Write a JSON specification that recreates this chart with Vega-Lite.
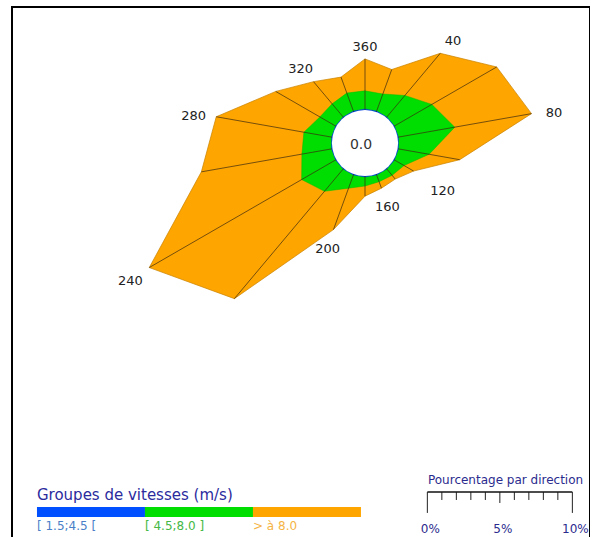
{
  "$schema": "https://vega.github.io/schema/vega-lite/v6.json",
  "width": 578,
  "height": 540,
  "padding": {"left": 12, "top": 7, "right": 0, "bottom": 0},
  "config": {"view": {"stroke": "#000000", "strokeWidth": 2}, "font": "DejaVu Sans"},
  "datasets": {
    "rose": [
      {"dir": 0, "blue": 0.06, "green": 1.26, "orange": 2.22},
      {"dir": 20, "blue": 0.06, "green": 1.26, "orange": 1.81},
      {"dir": 40, "blue": 0.06, "green": 1.95, "orange": 3.82},
      {"dir": 60, "blue": 0.06, "green": 3.0, "orange": 5.2},
      {"dir": 80, "blue": 0.06, "green": 3.97, "orange": 5.41},
      {"dir": 100, "blue": 0.06, "green": 2.16, "orange": 2.16},
      {"dir": 120, "blue": 0.06, "green": 0.77, "orange": 0.77},
      {"dir": 140, "blue": 0.06, "green": 0.57, "orange": 0.34},
      {"dir": 160, "blue": 0.06, "green": 0.5, "orange": 0.48},
      {"dir": 180, "blue": 0.06, "green": 0.63, "orange": 0.7},
      {"dir": 200, "blue": 0.06, "green": 0.98, "orange": 3.06},
      {"dir": 220, "blue": 0.06, "green": 2.02, "orange": 9.73},
      {"dir": 240, "blue": 0.06, "green": 2.72, "orange": 12.22},
      {"dir": 260, "blue": 0.06, "green": 2.09, "orange": 7.09},
      {"dir": 280, "blue": 0.06, "green": 1.95, "orange": 6.18},
      {"dir": 300, "blue": 0.06, "green": 1.26, "orange": 3.54},
      {"dir": 320, "blue": 0.06, "green": 1.19, "orange": 2.01},
      {"dir": 340, "blue": 0.06, "green": 1.33, "orange": 1.18}
    ],
    "classes": [
      {"cls": "[ 1.5;4.5 [", "i": 0},
      {"cls": "[ 4.5;8.0 ]", "i": 1},
      {"cls": "> à 8.0", "i": 2}
    ],
    "ticks": [
      {"v": 0}, {"v": 1}, {"v": 2}, {"v": 3}, {"v": 4}, {"v": 5},
      {"v": 6}, {"v": 7}, {"v": 8}, {"v": 9}, {"v": 10}
    ],
    "notes": [
      {"t": "0.0", "kind": "centre", "px": 0, "py": 0},
      {"t": "Groupes de vitesses (m/s)", "kind": "legend", "px": -22.78, "py": -24.45},
      {"t": "Pourcentage par direction", "kind": "scale", "px": 9.76, "py": -23.4}
    ]
  },
  "layer": [
    {
      "data": {"name": "rose"},
      "transform": [
        {"calculate": "datum.dir * PI / 180", "as": "a"},
        {"calculate": "2.3 + datum.blue", "as": "r1"},
        {"calculate": "datum.r1 + datum.green", "as": "r2"},
        {"calculate": "datum.r2 + datum.orange", "as": "r3"}
      ],
      "layer": [
        {
          "transform": [
            {"calculate": "datum.r3 * sin(datum.a)", "as": "px"},
            {"calculate": "datum.r3 * cos(datum.a)", "as": "py"}
          ],
          "mark": {"type": "line", "interpolate": "linear-closed", "fill": "#FFA500", "stroke": "#C98200", "strokeWidth": 0.7},
          "encoding": {
            "x": {"field": "px", "type": "quantitative", "scale": {"domain": [-24.514, 15.625], "nice": false, "zero": false}, "axis": null},
            "y": {"field": "py", "type": "quantitative", "scale": {"domain": [-28.056, 9.444], "nice": false, "zero": false}, "axis": null},
            "order": {"field": "dir", "type": "quantitative"}
          }
        },
        {
          "transform": [
            {"calculate": "datum.r2 * sin(datum.a)", "as": "px"},
            {"calculate": "datum.r2 * cos(datum.a)", "as": "py"}
          ],
          "mark": {"type": "line", "interpolate": "linear-closed", "fill": "#00DD00", "stroke": "#00C000", "strokeWidth": 0.5},
          "encoding": {
            "x": {"field": "px", "type": "quantitative"},
            "y": {"field": "py", "type": "quantitative"},
            "order": {"field": "dir", "type": "quantitative"}
          }
        },
        {
          "transform": [
            {"calculate": "datum.r1 * sin(datum.a)", "as": "px"},
            {"calculate": "datum.r1 * cos(datum.a)", "as": "py"}
          ],
          "mark": {"type": "line", "interpolate": "linear-closed", "fill": "#0040E0", "stroke": "#0040E0", "strokeWidth": 0.4},
          "encoding": {
            "x": {"field": "px", "type": "quantitative"},
            "y": {"field": "py", "type": "quantitative"},
            "order": {"field": "dir", "type": "quantitative"}
          }
        },
        {
          "transform": [
            {"calculate": "2.3 * sin(datum.a)", "as": "px"},
            {"calculate": "2.3 * cos(datum.a)", "as": "py"},
            {"calculate": "datum.r3 * sin(datum.a)", "as": "qx"},
            {"calculate": "datum.r3 * cos(datum.a)", "as": "qy"}
          ],
          "mark": {"type": "rule", "color": "#3A2A10", "strokeWidth": 0.7},
          "encoding": {
            "x": {"field": "px", "type": "quantitative"},
            "y": {"field": "py", "type": "quantitative"},
            "x2": {"field": "qx"},
            "y2": {"field": "qy"}
          }
        },
        {
          "transform": [
            {"filter": "datum.dir % 40 == 0"},
            {"calculate": "datum.r3 + 1.0 + 0.6 * abs(sin(datum.a)) + (datum.dir == 120 ? 0.8 : 0)", "as": "rl"},
            {"calculate": "datum.rl * sin(datum.a)", "as": "px"},
            {"calculate": "datum.rl * cos(datum.a)", "as": "py"},
            {"calculate": "datum.dir == 0 ? '360' : '' + datum.dir", "as": "lab"}
          ],
          "mark": {"type": "text", "fontSize": 13, "color": "#222222", "align": "center", "baseline": "middle", "dy": 3},
          "encoding": {
            "x": {"field": "px", "type": "quantitative"},
            "y": {"field": "py", "type": "quantitative"},
            "text": {"field": "lab"}
          }
        }
      ]
    },
    {
      "data": {"name": "notes"},
      "layer": [
        {
          "transform": [{"filter": "datum.kind == 'centre'"}],
          "mark": {"type": "point", "shape": "circle", "filled": true, "fill": "#FFFFFF", "opacity": 1, "size": 4382, "strokeWidth": 0},
          "encoding": {
            "x": {"field": "px", "type": "quantitative"},
            "y": {"field": "py", "type": "quantitative"}
          }
        },
        {
          "transform": [{"filter": "datum.kind == 'centre'"}],
          "mark": {"type": "text", "fontSize": 14, "color": "#333333", "align": "center", "baseline": "middle", "dx": -4, "dy": 2},
          "encoding": {
            "x": {"field": "px", "type": "quantitative"},
            "y": {"field": "py", "type": "quantitative"},
            "text": {"field": "t"}
          }
        },
        {
          "transform": [{"filter": "datum.kind == 'legend'"}],
          "mark": {"type": "text", "fontSize": 15, "color": "#2B2B9E", "align": "left", "baseline": "middle"},
          "encoding": {
            "x": {"field": "px", "type": "quantitative"},
            "y": {"field": "py", "type": "quantitative"},
            "text": {"field": "t"}
          }
        },
        {
          "transform": [{"filter": "datum.kind == 'scale'"}],
          "mark": {"type": "text", "fontSize": 12, "color": "#2B2B8E", "align": "center", "baseline": "middle"},
          "encoding": {
            "x": {"field": "px", "type": "quantitative"},
            "y": {"field": "py", "type": "quantitative"},
            "text": {"field": "t"}
          }
        }
      ]
    },
    {
      "data": {"name": "classes"},
      "transform": [
        {"calculate": "-22.78 + 7.5 * datum.i", "as": "px"},
        {"calculate": "datum.px + 7.5", "as": "qx"},
        {"calculate": "-25.28", "as": "py"},
        {"calculate": "-25.97", "as": "qy"},
        {"calculate": "-26.6", "as": "ly"}
      ],
      "layer": [
        {
          "mark": {"type": "rect"},
          "encoding": {
            "x": {"field": "px", "type": "quantitative"},
            "x2": {"field": "qx"},
            "y": {"field": "py", "type": "quantitative"},
            "y2": {"field": "qy"},
            "fill": {"field": "cls", "type": "nominal", "scale": {"domain": ["[ 1.5;4.5 [", "[ 4.5;8.0 ]", "> à 8.0"], "range": ["#0050FF", "#00DD00", "#FFA500"]}, "legend": null}
          }
        },
        {
          "mark": {"type": "text", "fontSize": 12, "align": "left", "baseline": "middle"},
          "encoding": {
            "x": {"field": "px", "type": "quantitative"},
            "y": {"field": "ly", "type": "quantitative"},
            "text": {"field": "cls"},
            "color": {"field": "cls", "type": "nominal", "scale": {"domain": ["[ 1.5;4.5 [", "[ 4.5;8.0 ]", "> à 8.0"], "range": ["#4A7FC8", "#45B845", "#F5B445"]}, "legend": null}
          }
        }
      ]
    },
    {
      "data": {"name": "ticks"},
      "transform": [
        {"calculate": "4.33 + datum.v * 1.007", "as": "px"},
        {"calculate": "-24.24", "as": "py"},
        {"calculate": "datum.v == 0 || datum.v == 10 ? -25.69 : (datum.v == 5 ? -25.0 : -24.79)", "as": "qy"},
        {"calculate": "-26.78", "as": "ly"}
      ],
      "layer": [
        {
          "mark": {"type": "rule", "color": "#222222", "strokeWidth": 1},
          "encoding": {
            "x": {"field": "px", "type": "quantitative"},
            "y": {"field": "py", "type": "quantitative"},
            "y2": {"field": "qy"}
          }
        },
        {
          "mark": {"type": "line", "color": "#111111", "strokeWidth": 1.5},
          "encoding": {
            "x": {"field": "px", "type": "quantitative"},
            "y": {"field": "py", "type": "quantitative"}
          }
        },
        {
          "transform": [
            {"filter": "datum.v == 0 || datum.v == 5 || datum.v == 10"},
            {"calculate": "datum.v + '%'", "as": "lab"}
          ],
          "mark": {"type": "text", "fontSize": 12, "color": "#2B2B8E", "align": "center", "baseline": "middle", "dx": 3},
          "encoding": {
            "x": {"field": "px", "type": "quantitative"},
            "y": {"field": "ly", "type": "quantitative"},
            "text": {"field": "lab"}
          }
        }
      ]
    }
  ]
}
